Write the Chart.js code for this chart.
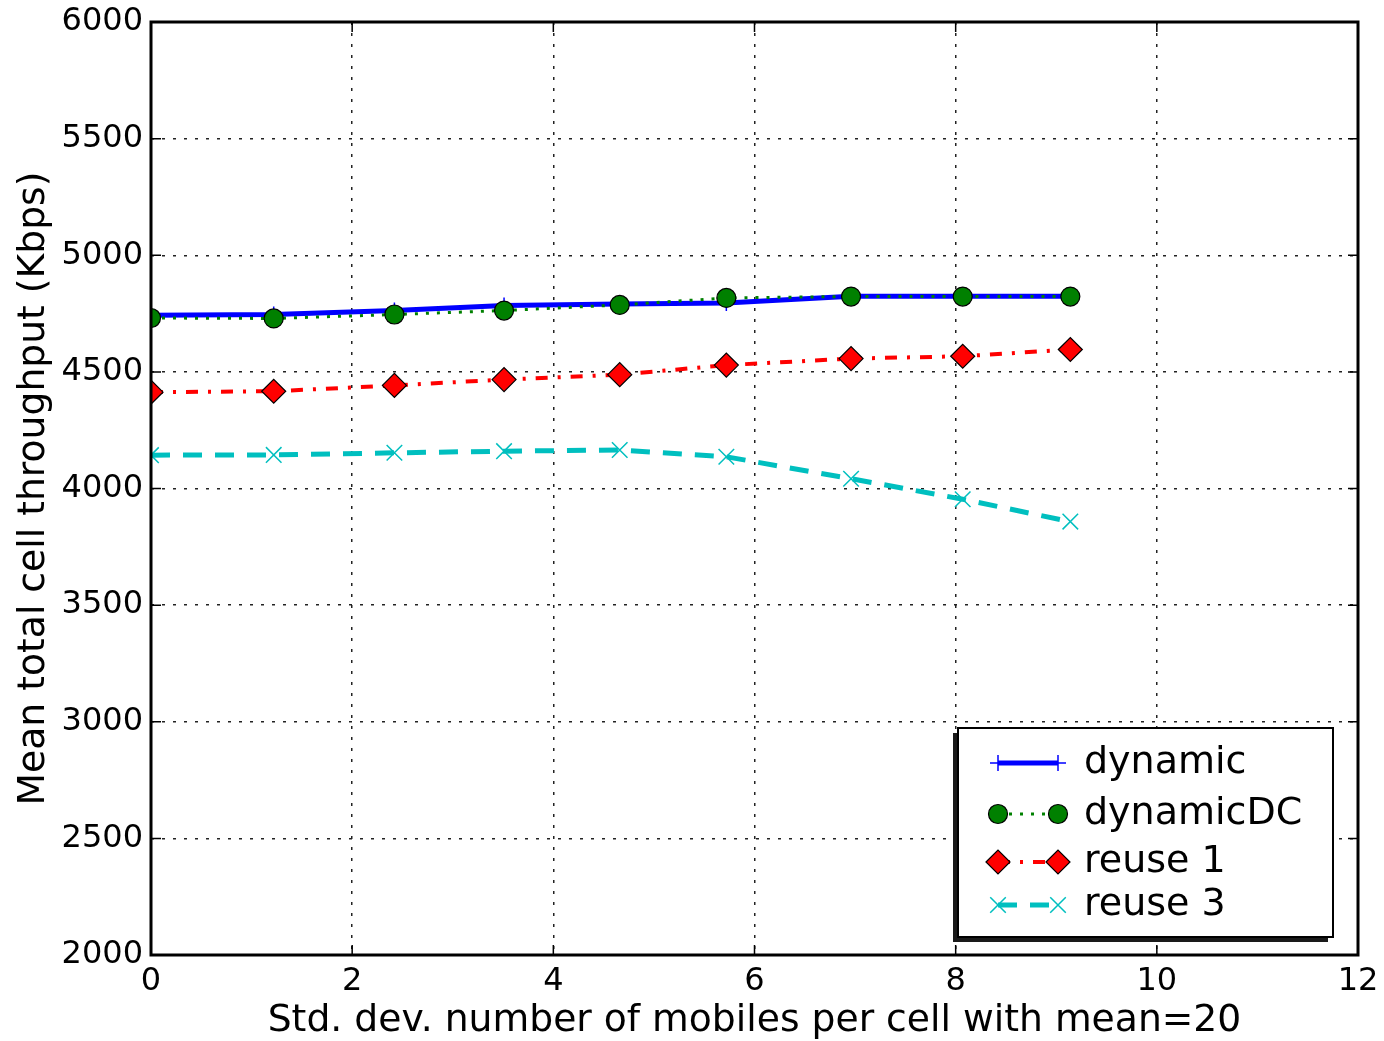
<!DOCTYPE html>
<html>
<head>
<meta charset="utf-8">
<script src="https://cdn.jsdelivr.net/npm/chart.js@4/dist/chart.umd.min.js"></script>
<style>
  html, body { margin: 0; padding: 0; background: #fff; }
  #wrap { width: 1384px; height: 1041px; }
</style>
</head>
<body>
<div id="wrap"><canvas id="c" width="1384" height="1041"></canvas></div>
<script>
// Std. dev. of number of mobiles per cell (x) and mean total cell throughput in Kbps (y)
const stdDev    = [0, 1.22, 2.42, 3.51, 4.66, 5.72, 6.96, 8.07, 9.14];
const dynamic   = [4743, 4746, 4763, 4785, 4791, 4795, 4824, 4824, 4824];
const dynamicDC = [4731, 4729, 4746, 4763, 4787, 4817, 4823, 4823, 4823];
const reuse1    = [4413, 4417, 4442, 4467, 4488, 4529, 4557, 4567, 4596];
const reuse3    = [4143, 4144, 4153, 4160, 4165, 4136, 4042, 3954, 3858];

const seriesNames = ['dynamic', 'dynamicDC', 'reuse 1', 'reuse 3'];
const xTicks = [0, 2, 4, 6, 8, 10, 12];
const yTicks = [2000, 2500, 3000, 3500, 4000, 4500, 5000, 5500, 6000];

const FONT = '"DejaVu Sans", "Bitstream Vera Sans", sans-serif';

function pts(ys) { return stdDev.map((x, i) => ({ x: x, y: ys[i] })); }

const datasets = [
  { label: seriesNames[0], data: pts(dynamic), order: 4,
    borderColor: '#0000ff', borderWidth: 5, borderDash: [],
    pointStyle: 'cross', pointRadius: 8, pointBorderWidth: 1.5,
    pointBorderColor: '#0000ff', pointBackgroundColor: '#0000ff' },
  { label: seriesNames[1], data: pts(dynamicDC), order: 3,
    borderColor: '#008000', borderWidth: 3, borderDash: [3, 8],
    pointStyle: 'circle', pointRadius: 9.5, pointBorderWidth: 1.2,
    pointBorderColor: '#000000', pointBackgroundColor: '#008000' },
  { label: seriesNames[2], data: pts(reuse1), order: 2,
    borderColor: '#ff0000', borderWidth: 4, borderDash: [12, 10, 3, 10],
    pointStyle: 'rectRot', pointRadius: 12, pointBorderWidth: 1.2,
    pointBorderColor: '#000000', pointBackgroundColor: '#ff0000' },
  { label: seriesNames[3], data: pts(reuse3), order: 1,
    borderColor: '#00bfbf', borderWidth: 5, borderDash: [19, 13],
    pointStyle: 'crossRot', pointRadius: 11, pointBorderWidth: 1.5,
    pointBorderColor: '#00bfbf', pointBackgroundColor: '#00bfbf' }
];
datasets.forEach(d => { d.tension = 0; d.fill = false; d.clip = 0; d.pointHoverRadius = d.pointRadius; });

// Frame, inward tick marks and the boxed legend with a drop shadow
const decorations = {
  id: 'decorations',
  afterDraw(chart) {
    const ctx = chart.ctx;
    const a = chart.chartArea;
    const xs = chart.scales.x, ys = chart.scales.y;
    ctx.save();
    // inward ticks on all four sides
    ctx.strokeStyle = '#000';
    ctx.lineWidth = 1.5;
    ctx.beginPath();
    xTicks.forEach(v => {
      const px = xs.getPixelForValue(v);
      ctx.moveTo(px, a.bottom); ctx.lineTo(px, a.bottom - 10);
      ctx.moveTo(px, a.top); ctx.lineTo(px, a.top + 10);
    });
    yTicks.forEach(v => {
      const py = ys.getPixelForValue(v);
      ctx.moveTo(a.left, py); ctx.lineTo(a.left + 10, py);
      ctx.moveTo(a.right, py); ctx.lineTo(a.right - 10, py);
    });
    ctx.stroke();
    // frame
    ctx.lineWidth = 3;
    ctx.strokeRect(a.left, a.top, a.right - a.left, a.bottom - a.top);

    // legend
    const bx = 958, by = 728, bw = 375, bh = 209;
    ctx.fillStyle = '#1a1a1a';
    ctx.fillRect(bx - 5, by + 5, bw, bh);
    ctx.fillStyle = '#ffffff';
    ctx.fillRect(bx, by, bw, bh);
    ctx.lineWidth = 2;
    ctx.strokeStyle = '#000';
    ctx.strokeRect(bx, by, bw, bh);

    const rows = [763, 814, 862, 905];
    const x0 = 998, x1 = 1058;
    chart.data.datasets.forEach((ds, i) => {
      const y = rows[i];
      ctx.save();
      ctx.strokeStyle = ds.borderColor;
      ctx.lineWidth = ds.borderWidth;
      ctx.setLineDash(ds.borderDash || []);
      ctx.beginPath(); ctx.moveTo(x0, y); ctx.lineTo(x1, y); ctx.stroke();
      ctx.setLineDash([]);
      ctx.fillStyle = ds.pointBackgroundColor;
      ctx.strokeStyle = ds.pointBorderColor;
      ctx.lineWidth = ds.pointBorderWidth;
      [x0, x1].forEach(px => {
        Chart.helpers.drawPoint(ctx, {
          pointStyle: ds.pointStyle, radius: ds.pointRadius,
          borderWidth: ds.pointBorderWidth, rotation: 0
        }, px, y);
      });
      ctx.restore();
      ctx.fillStyle = '#000';
      ctx.font = '38px ' + FONT;
      ctx.textBaseline = 'middle';
      ctx.textAlign = 'left';
      ctx.fillText(ds.label, 1084, y);
    });
    ctx.restore();
  }
};

new Chart(document.getElementById('c'), {
  type: 'line',
  data: { datasets: datasets },
  plugins: [decorations],
  options: {
    responsive: false,
    animation: false,
    events: [],
    layout: { padding: { top: 22, right: 26, left: 0, bottom: 0 } },
    plugins: { legend: { display: false }, tooltip: { enabled: false } },
    scales: {
      x: {
        type: 'linear', min: 0, max: 12,
        afterBuildTicks: s => { s.ticks = xTicks.map(v => ({ value: v })); },
        afterFit: s => { s.height = 86; s.paddingLeft = 0; s.paddingRight = 0; },
        grid: { color: '#222', lineWidth: 1.5, drawTicks: false },
        border: { display: false, dash: [3, 8] },
        ticks: { color: '#000', font: { family: FONT, size: 32 }, padding: 7, maxRotation: 0,
                 callback: v => String(v) },
        title: { display: true, text: 'Std. dev. number of mobiles per cell with mean=20',
                 color: '#000', font: { family: FONT, size: 37.7 }, padding: { top: 0, bottom: -3 } }
      },
      y: {
        type: 'linear', min: 2000, max: 6000,
        afterBuildTicks: s => { s.ticks = yTicks.map(v => ({ value: v })); },
        afterFit: s => { s.width = 151; s.paddingTop = 0; s.paddingBottom = 0; },
        grid: { color: '#222', lineWidth: 1.5, drawTicks: false },
        border: { display: false, dash: [3, 8] },
        ticks: { color: '#000', font: { family: FONT, size: 32 }, padding: 8,
                 callback: v => String(v) },
        title: { display: true, text: 'Mean total cell throughput (Kbps)',
                 color: '#000', font: { family: FONT, size: 37.7 }, padding: { top: 12, bottom: 0 } }
      }
    }
  }
});
</script>
</body>
</html>
